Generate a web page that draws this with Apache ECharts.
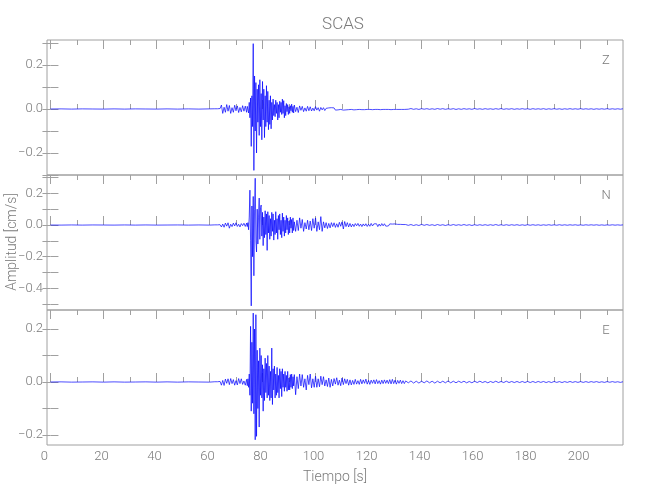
<!DOCTYPE html>
<html>
<head>
<meta charset="utf-8">
<script src="https://cdn.jsdelivr.net/npm/echarts@6/dist/echarts.min.js"></script>
<style>html,body{margin:0;padding:0;background:#fff}#c{width:650px;height:500px}</style>
</head>
<body>
<div id="c"></div>
<script>
// ---------------- data ----------------
const title = 'SCAS';
const channels = ['Z', 'N', 'E'];
const xLabel = 'Tiempo [s]';
const yLabel = 'Amplitud [cm/s]';
const xRange = [-1.3, 216];
const xMajorTicks = [0, 20, 40, 60, 80, 100, 120, 140, 160, 180, 200];
const xMinorTicks = [10, 30, 50, 70, 90, 110, 130, 150, 170, 190, 210];

const zRange = [-0.3, 0.3136];
const nRange = [-0.536, 0.3155];
const eRange = [-0.2377, 0.2717];
const zTicks = [-0.3, -0.2, -0.1, 0, 0.1, 0.2, 0.3];
const nTicks = [-0.5, -0.4, -0.3, -0.2, -0.1, 0, 0.1, 0.2, 0.3];
const eTicks = [-0.2, -0.1, 0, 0.1, 0.2];
const zLabels = [-0.2, 0, 0.2];
const nLabels = [-0.4, -0.2, 0, 0.2];
const eLabels = [-0.2, 0, 0.2];

// sample segments (start time, step in s)
const preStart = 0, preStep = 4;
const pStart = 62, pStep = 0.5;
const sStart = 74, sStep = 0.25;
const codaStart = 92, codaStep = 0.5;
const tailStart = 134, tailStep = 1;

// ---- Z ----
const zPre = [0, 0.0005, -0.0005, 0.0005, 0, -0.0005, 0.0005, -0.0005, 0.0005, 0, -0.0005, 0.0005, -0.0005, 0.0005, -0.0005, 0.0005];
const zP = [0.001, -0.001, 0.001, -0.001, 0.002,
  0.018, -0.02, 0.008, -0.015, 0.02, -0.01, 0.016, -0.02, 0.006, -0.015,
  0.017, -0.008, 0.014, -0.016, 0.007, -0.013, 0.015, -0.01, 0.013];
const zS = [-0.015, 0.012, 0.02, -0.018, 0.03, -0.04, 0.05, -0.17,
  0.06, -0.08, 0.297, -0.279, 0.15, -0.1, 0.12, -0.2,
  0.09, -0.06, 0.11, -0.12, 0.133, -0.08, 0.07, -0.14,
  0.125, -0.05, 0.09, -0.13, 0.06, -0.08, 0.106, -0.06,
  0.08, -0.094, 0.04, -0.07, 0.06, -0.09, 0.03, -0.05,
  0.045, -0.03, 0.02, -0.035, 0.04, -0.02, 0.03, -0.05,
  0.02, -0.04, 0.035, -0.015, 0.03, -0.025, 0.045, -0.02,
  0.038, -0.04, 0.015, -0.03, 0.025, -0.012, 0.02, -0.025,
  0.01, -0.02, 0.015, -0.008, 0.022, -0.015, 0.012, -0.018];
const zCoda = [0.018, -0.012, 0.008, -0.016, 0.014, -0.006, 0.012, -0.012, 0.005, -0.01,
  0.012, -0.008, 0.01, -0.009, 0.004, -0.008, 0.011, -0.005, 0.006, -0.01,
  0.007, -0.004, 0.006, -0.007, 0.003, -0.006, 0.005, -0.004, 0.006, -0.003,
  0.005, -0.005, 0.003, -0.004, 0.005, -0.002, 0.004, -0.005, 0.003, -0.004,
  0.004, -0.003, 0.004, -0.002, 0.004, -0.004, 0.002, -0.003, 0.004, -0.002,
  0.003, -0.003, 0.002, -0.003, 0.003, -0.002, 0.003, -0.002, 0.003, -0.003,
  0.002, -0.002, 0.003, -0.002, 0.002, -0.003, 0.002, -0.002, 0.003, -0.002,
  0.002, -0.002, 0.002, -0.003, 0.002, -0.002, 0.002, -0.002, 0.002, -0.002,
  0.002, -0.002, 0.002, -0.002];
const zTail = [0.0015, -0.001, 0.002, -0.0015, 0.001, -0.002, 0.0015, -0.001, 0.0015, -0.0015,
  0.001, -0.0015, 0.002, -0.001, 0.0015, -0.0015, 0.001, -0.001, 0.0015, -0.002,
  0.001, -0.0015, 0.0015, -0.001, 0.001, -0.0015, 0.002, -0.001, 0.001, -0.0015,
  0.0015, -0.001, 0.001, -0.0015, 0.0015, -0.001, 0.002, -0.0015, 0.001, -0.001,
  0.0015, -0.0015, 0.001, -0.001, 0.0015, -0.001, 0.001, -0.0015, 0.0015, -0.001,
  0.001, -0.001, 0.0015, -0.0015, 0.001, -0.001, 0.0015, -0.001, 0.001, -0.0015,
  0.001, -0.001, 0.0015, -0.001, 0.001, -0.001, 0.0015, -0.001, 0.001, -0.001,
  0.001, -0.0015, 0.001, -0.001, 0.001, -0.001, 0.0015, -0.001, 0.001, -0.001,
  0.001, -0.001, 0.001];

// ---- N ----
const nPre = [0, -0.0005, 0.0005, -0.0005, 0.0005, 0, -0.0005, 0.0005, -0.0005, 0.0005, -0.0005, 0, 0.0005, -0.0005, 0.0005, -0.0005];
const nP = [0.001, -0.001, 0.001, -0.001, 0.002,
  -0.012, 0.006, -0.014, 0.012, -0.007, 0.014, -0.02, 0.005, -0.01, 0.012,
  -0.006, 0.014, -0.009, 0.005, -0.012, 0.009, -0.004, 0.011, -0.009];
const nS = [0.012, -0.01, 0.015, -0.03, 0.05, 0.22, -0.1, -0.51,
  0.12, -0.2, 0.18, -0.32, 0.1, 0.295, -0.1, -0.17,
  0.1, -0.12, 0.05, 0.17, -0.09, 0.11, 0.126, -0.07,
  0.08, -0.13, 0.05, -0.08, 0.09, -0.06, 0.07, -0.16,
  0.084, -0.05, 0.06, -0.09, 0.04, -0.07, 0.08, -0.04,
  0.07, -0.095, 0.03, -0.06, 0.084, -0.05, 0.04, -0.09,
  0.06, -0.03, 0.07, -0.06, 0.03, -0.08, 0.075, -0.04,
  0.05, -0.07, 0.03, -0.05, 0.06, -0.03, 0.045, -0.06,
  0.025, -0.05, 0.05, -0.02, 0.035, -0.05, 0.045, -0.035];
const nCoda = [0.02, -0.04, 0.03, -0.035, 0.045, -0.02, 0.035, -0.04, 0.015, -0.025,
  0.03, -0.03, 0.025, -0.035, 0.04, -0.02, 0.045, -0.04, 0.02, -0.03,
  0.053, -0.04, 0.02, -0.018, 0.015, -0.022, 0.01, -0.018, 0.015, -0.01,
  0.014, -0.015, 0.008, -0.014, 0.017, -0.008, 0.02, -0.025, 0.022, -0.01,
  0.015, -0.012, 0.01, -0.012, 0.006, -0.01, 0.009, -0.005, 0.01, -0.008,
  0.006, -0.01, 0.007, -0.006, 0.008, -0.009, 0.005, -0.008, 0.01, -0.006,
  0.007, -0.005, 0.008, -0.01, 0.006, -0.007, 0.009, -0.005, 0.008, -0.007,
  0.005, -0.006, 0.007, -0.005, 0.006, -0.004, 0.007, -0.005, 0.004, -0.005,
  0.004, -0.004, 0.003, -0.003];
const nTail = [0.003, -0.002, 0.003, -0.003, 0.002, -0.003, 0.004, -0.002, 0.003, -0.002,
  0.002, -0.003, 0.003, -0.002, 0.002, -0.003, 0.002, -0.002, 0.003, -0.002,
  0.002, -0.002, 0.003, -0.002, 0.002, -0.003, 0.002, -0.002, 0.002, -0.002,
  0.002, -0.002, 0.002, -0.002, 0.003, -0.002, 0.002, -0.002, 0.002, -0.002,
  0.002, -0.0015, 0.002, -0.002, 0.0015, -0.002, 0.002, -0.0015, 0.002, -0.0015,
  0.0015, -0.002, 0.0015, -0.0015, 0.002, -0.0015, 0.0015, -0.0015, 0.002, -0.0015,
  0.0015, -0.0015, 0.0015, -0.001, 0.0015, -0.0015, 0.001, -0.0015, 0.0015, -0.001,
  0.0015, -0.001, 0.0015, -0.0015, 0.001, -0.0015, 0.001, -0.001, 0.0015, -0.001,
  0.001, -0.001, 0.001];

// ---- E ----
const ePre = [0, 0.0005, -0.0005, 0, 0.0005, -0.0005, 0.0005, -0.0005, 0, 0.0005, -0.0005, 0.0005, -0.0005, 0.0005, 0, -0.0005];
const eP = [0.001, -0.001, 0.001, -0.001, 0.002,
  -0.012, 0.006, -0.013, 0.011, -0.005, 0.012, -0.01, 0.013, -0.006, 0.009,
  -0.012, 0.005, -0.011, 0.013, -0.006, 0.012, -0.009, 0.004, -0.012];
const eS = [0.01, -0.014, 0.012, -0.02, 0.03, -0.05, 0.21, -0.11,
  0.15, -0.08, 0.26, -0.12, 0.2, -0.218, 0.254, -0.205,
  0.12, -0.1, 0.08, -0.17, 0.128, -0.05, 0.1, -0.06,
  0.065, -0.11, 0.05, -0.07, 0.09, -0.04, 0.07, -0.06,
  0.1, -0.05, 0.06, -0.07, 0.04, -0.06, 0.128, -0.085,
  0.05, -0.03, 0.06, -0.06, 0.03, -0.05, 0.055, -0.04,
  0.025, -0.06, 0.05, -0.025, 0.04, -0.055, 0.05, -0.02,
  0.03, -0.035, 0.04, -0.02, 0.025, -0.035, 0.04, -0.03,
  0.015, -0.03, 0.028, -0.02, 0.03, -0.025, 0.02, -0.015];
const eCoda = [0.028, -0.048, 0.02, -0.025, 0.03, -0.015, 0.028, -0.02, 0.012, -0.03,
  0.025, -0.01, 0.03, -0.022, 0.012, -0.02, 0.022, -0.02, 0.012, -0.018,
  0.022, -0.01, 0.02, -0.015, 0.008, -0.017, 0.015, -0.02, 0.01, -0.015,
  0.013, -0.008, 0.016, -0.012, 0.007, -0.014, 0.015, -0.01, 0.012, -0.006,
  0.01, -0.012, 0.008, -0.011, 0.006, -0.009, 0.01, -0.008, 0.005, -0.009,
  0.01, -0.007, 0.008, -0.005, 0.011, -0.008, 0.006, -0.009, 0.007, -0.005,
  0.008, -0.007, 0.009, -0.006, 0.005, -0.008, 0.007, -0.006, 0.008, -0.005,
  0.007, -0.006, 0.009, -0.007, 0.01, -0.006, 0.007, -0.008, 0.006, -0.005,
  0.007, -0.006, 0.005, -0.006];
const eTail = [0.004, -0.003, 0.004, -0.004, 0.003, -0.004, 0.003, -0.003, 0.004, -0.003,
  0.003, -0.004, 0.003, -0.003, 0.003, -0.003, 0.004, -0.003, 0.003, -0.003,
  0.003, -0.002, 0.003, -0.003, 0.002, -0.003, 0.003, -0.002, 0.003, -0.002,
  0.002, -0.003, 0.002, -0.002, 0.003, -0.002, 0.002, -0.002, 0.003, -0.002,
  0.002, -0.002, 0.002, -0.002, 0.002, -0.002, 0.002, -0.002, 0.002, -0.002,
  0.002, -0.0015, 0.002, -0.002, 0.0015, -0.002, 0.002, -0.0015, 0.0015, -0.002,
  0.0015, -0.0015, 0.002, -0.0015, 0.0015, -0.0015, 0.0015, -0.0015, 0.0015, -0.0015,
  0.0015, -0.001, 0.0015, -0.0015, 0.001, -0.0015, 0.0015, -0.001, 0.0015, -0.001,
  0.001, -0.0015, 0.001];

// ---------------- build ----------------
function seg(arr, start, step) { return arr.map((v, i) => [start + i * step, v]); }
function trace(pre, p, s, coda, tail) {
  return [].concat(seg(pre, preStart, preStep), seg(p, pStart, pStep), seg(s, sStart, sStep),
    seg(coda, codaStart, codaStep), seg(tail, tailStart, tailStep));
}
const traces = [trace(zPre, zP, zS, zCoda, zTail), trace(nPre, nP, nS, nCoda, nTail), trace(ePre, eP, eS, eCoda, eTail)];
const ranges = [zRange, nRange, eRange];
const yTicks = [zTicks, nTicks, eTicks];
const yLabs = [zLabels, nLabels, eLabels];

const FONT = "Roboto, 'Liberation Sans Narrow', sans-serif";
const FW = 300;
const AX = '#a0a0a0';
const TXT = '#7a7a7a';
const L = 47, R = 27, TOP = 40, H = 135;
const fmt = v => (Math.abs(v) < 1e-9 ? '0.0' : v.toFixed(1)).replace('-', '\u2212');
const xfmt = v => (v === 0 ? '{z|0}' : '{n|' + v + '}');
const lblStyle = { color: TXT, fontFamily: FONT, fontWeight: FW, fontSize: 13 };

const grid = [], xAxis = [], yAxis = [], series = [];
for (let k = 0; k < 3; k++) {
  grid.push({ left: L, right: R, top: TOP + k * H, height: H, show: true, borderColor: AX, borderWidth: 1, containLabel: false });
  const base = { type: 'value', gridIndex: k, min: xRange[0], max: xRange[1], axisLine: { show: false }, splitLine: { show: false } };
  const xi = xAxis.length;
  xAxis.push(Object.assign({}, base, { position: 'bottom',
    axisTick: { show: true, inside: true, length: 9, customValues: xMajorTicks, lineStyle: { color: AX } },
    axisLabel: Object.assign({ show: k === 2, customValues: xMajorTicks, margin: 5, formatter: xfmt,
      rich: { z: Object.assign({ padding: [0, 12, 0, 0] }, lblStyle), n: Object.assign({ padding: [0, 4, 0, 0] }, lblStyle) } }, lblStyle),
    name: k === 2 ? xLabel : '', nameLocation: 'middle', nameGap: 25,
    nameTextStyle: { color: TXT, fontFamily: FONT, fontWeight: FW, fontSize: 14 } }));
  xAxis.push(Object.assign({}, base, { position: 'bottom',
    axisTick: { show: true, inside: true, length: 5, customValues: xMinorTicks, lineStyle: { color: AX } },
    axisLabel: { show: false } }));
  xAxis.push(Object.assign({}, base, { position: 'top',
    axisTick: { show: true, inside: true, length: 9, customValues: xMajorTicks, lineStyle: { color: AX } },
    axisLabel: { show: false } }));
  xAxis.push(Object.assign({}, base, { position: 'top',
    axisTick: { show: true, inside: true, length: 5, customValues: xMinorTicks, lineStyle: { color: AX } },
    axisLabel: { show: false } }));
  const yb = { type: 'value', gridIndex: k, min: ranges[k][0], max: ranges[k][1], axisLine: { show: false }, splitLine: { show: false } };
  const yi = yAxis.length;
  yAxis.push(Object.assign({}, yb, { position: 'left',
    axisTick: { show: true, inside: true, length: 8, customValues: yTicks[k], lineStyle: { color: AX } },
    axisLabel: Object.assign({ show: true, customValues: yLabs[k], formatter: fmt, margin: 4 }, lblStyle) }));
  yAxis.push(Object.assign({}, yb, { position: 'right',
    axisTick: { show: true, inside: true, length: 8, customValues: yTicks[k], lineStyle: { color: AX } },
    axisLabel: { show: false } }));
  series.push({ type: 'line', name: channels[k], xAxisIndex: xi, yAxisIndex: yi, data: traces[k],
    symbol: 'none', showSymbol: false, sampling: null, silent: true,
    lineStyle: { color: '#0000ff', width: 0.7 }, emphasis: { disabled: true } });
}

const chart = echarts.init(document.getElementById('c'), null, { renderer: 'canvas' });
chart.setOption({
  animation: false,
  backgroundColor: '#ffffff',
  title: { text: title, left: 338, top: 11, textAlign: 'center',
    textStyle: { color: TXT, fontFamily: FONT, fontSize: 17, fontWeight: FW } },
  grid, xAxis, yAxis, series,
  graphic: [
    { type: 'text', x: 606, y: 61, style: { text: channels[0], fill: TXT, font: FW + " 13px " + FONT, textAlign: 'center', textVerticalAlign: 'middle' } },
    { type: 'text', x: 606, y: 196, style: { text: channels[1], fill: TXT, font: FW + " 13px " + FONT, textAlign: 'center', textVerticalAlign: 'middle' } },
    { type: 'text', x: 606, y: 331, style: { text: channels[2], fill: TXT, font: FW + " 13px " + FONT, textAlign: 'center', textVerticalAlign: 'middle' } },
    { type: 'text', x: 12, y: 242, rotation: Math.PI / 2,
      style: { text: yLabel, fill: TXT, font: FW + " 14px " + FONT, textAlign: 'center', textVerticalAlign: 'middle' } }
  ]
});
</script>
</body>
</html>
